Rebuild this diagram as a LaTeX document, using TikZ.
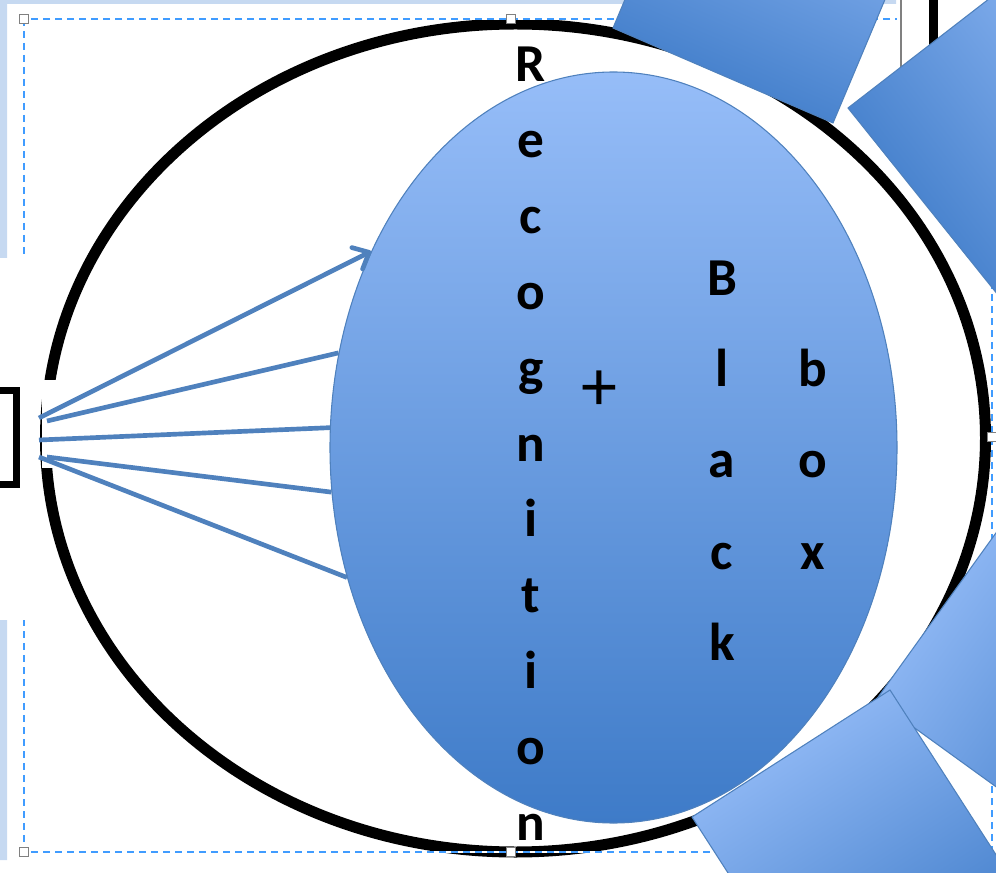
\documentclass[tikz,border=0pt]{standalone}
\usepackage{fontspec}
\setmainfont{Carlito}
\usetikzlibrary{arrows.meta,shapes.geometric}
\definecolor{strip}{RGB}{198,217,241}
\definecolor{selblue}{RGB}{64,156,255}
\definecolor{linkblue}{RGB}{79,129,189}
\definecolor{blobtop}{RGB}{150,189,248}
\definecolor{blobbot}{RGB}{62,123,200}
\definecolor{handlegray}{RGB}{128,128,128}
\tikzset{
  letter/.style={font=\fontsize{40}{40}\selectfont\bfseries, anchor=base, inner sep=0pt},
  link/.style={draw=linkblue, line width=3.5pt},
  handle/.style={draw=handlegray, fill=white, line width=1.2pt, minimum size=6.5pt, inner sep=0pt},
  panel/.style={draw=linkblue, line width=0.8pt, top color=blobtop, bottom color=blobbot}
}
\begin{document}
\begin{tikzpicture}[x=0.75pt,y=-0.75pt]
\useasboundingbox (0,0) rectangle (996,873);
\clip (0,0) rectangle (996,873);
% background strips
\fill[strip] (0,0) rectangle (896,4) (0,0) rectangle (7,258) (0,620) rectangle (7,860);
% outer ring
\draw[line width=8.25pt] (515.5,438) ellipse [x radius=470, y radius=414];
\fill[white] (41.6,380) rectangle (58,468);
% selection frame
\draw[white, line width=1.2pt] (24,19) rectangle (992,852);
\draw[selblue, line width=1.2pt, dash pattern=on 5.25pt off 3.75pt] (24,19) rectangle (992,852);
\fill[white] (0,258) rectangle (36,620);
\fill[white] (897,0) rectangle (996,150);
\draw[handlegray, line width=1.2pt] (901,0) -- (901,150);
\fill[black] (929,0) rectangle (938,45);
\node[handle] (h1) at (24,19) {};
\node[handle] (h2) at (24,852) {};
\node[handle] (h3) at (511,19) {};
\node[handle] (h4) at (511,852) {};
\node[handle] (h5) at (992,437) {};
% bracket
\draw[line width=5.25pt] (0,390.5) -- (16.5,390.5) -- (16.5,484) -- (0,484);
% inner blob
\node[ellipse, draw=linkblue, line width=0.8pt, top color=blobtop, bottom color=blobbot,
  minimum width=425.25pt, minimum height=563.25pt, inner sep=0pt] (blob) at (613.5,447.5) {};
% links
\coordinate (s1) at (39,418);
\coordinate (s2) at (47,421);
\coordinate (s3) at (39,440);
\coordinate (s4) at (47,457);
\coordinate (s5) at (39,457);
\draw[link, -{Straight Barb[length=10pt,width=18pt,round]}] (s1) -- (blob.141);
\draw[link] (s2) -- (blob.161);
\draw[link] (s3) -- (blob.176.5);
\draw[link] (s4) -- (blob.189);
\draw[link] (s5) -- (blob.206.7);
% letters
\foreach \ch [count=\i from 0] in {R,e,c,o,g,n,i,t,i,o,n}
  \node[letter] (rec\i) at (531,{82+75.8*\i}) {\ch};
\node[font=\fontsize{54}{54}\selectfont, inner sep=0pt] (plus) at (599,391) {+};
\foreach \ch [count=\i from 0] in {B,l,a,c,k}
  \node[letter] (black\i) at (722,{296+91*\i}) {\ch};
\foreach \ch [count=\i from 1] in {b,o,x}
  \node[letter] (box\i) at (813,{296+91*\i}) {\ch};
% tilted panels
\shade[panel, shading angle=-23.4] (613,28) -- (833,123) -- (926,-98) -- (706,-193) -- cycle;
\shade[panel, shading angle=-52.4] (848,108) -- (1038,-39) -- (1188,148) -- (998,295) -- cycle;
\shade[panel, shading angle=54.2] (876,700) -- (1016,505) -- (1211,646) -- (1071,841) -- cycle;
\shade[panel, shading angle=32.7] (890,690) -- (692,817) -- (822,1019) -- (1020,892) -- cycle;
\end{tikzpicture}
\end{document}
